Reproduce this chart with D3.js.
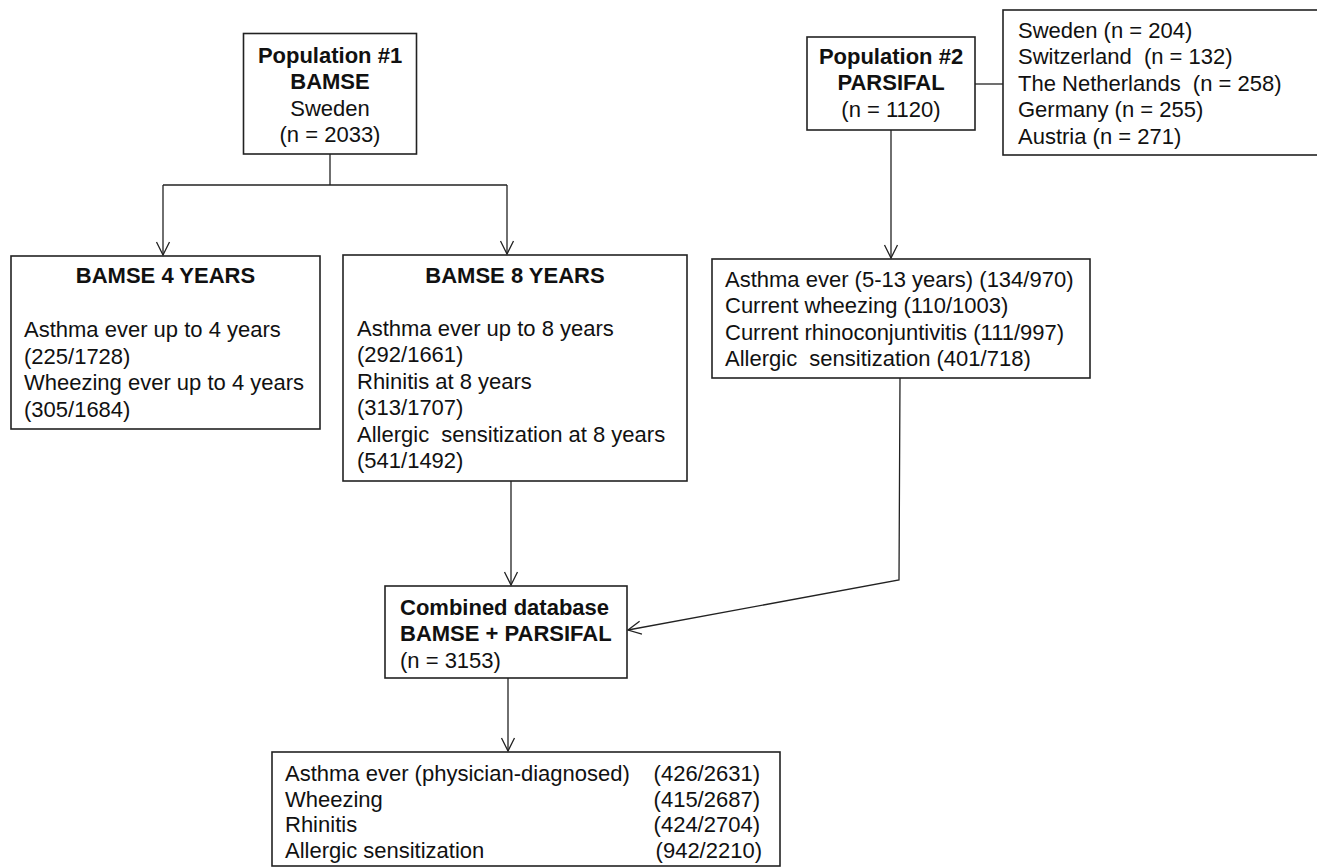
<!DOCTYPE html>
<html>
<head>
<meta charset="utf-8">
<script src="https://cdn.jsdelivr.net/npm/d3@7"></script>
<style>
  body { margin: 0; background: #fff; }
  svg text { font-family: "Liberation Sans", Arial, sans-serif; font-size: 22px; fill: #111; white-space: pre; }
</style>
</head>
<body>
<svg id="chart" width="1317" height="868"></svg>
<script>
// ---- data ----
const populations = [
  { id: "pop1", title: ["Population #1", "BAMSE"], sub: ["Sweden"], n: 2033 },
  { id: "pop2", title: ["Population #2", "PARSIFAL"], sub: [], n: 1120 },
  { id: "combined", title: ["Combined database", "BAMSE + PARSIFAL"], sub: [], n: 3153 }
];
const parsifalCountries = ["Sweden", "Switzerland ", "The Netherlands ", "Germany", "Austria"];
const parsifalCountryN = [204, 132, 258, 255, 271];

const bamse4Labels = ["Asthma ever up to 4 years", "Wheezing ever up to 4 years"];
const bamse4Cases = [225, 305];
const bamse4Totals = [1728, 1684];

const bamse8Labels = ["Asthma ever up to 8 years", "Rhinitis at 8 years", "Allergic  sensitization at 8 years"];
const bamse8Cases = [292, 313, 541];
const bamse8Totals = [1661, 1707, 1492];

const parsifalLabels = ["Asthma ever (5-13 years)", "Current wheezing", "Current rhinoconjuntivitis", "Allergic  sensitization"];
const parsifalCases = [134, 110, 111, 401];
const parsifalTotals = [970, 1003, 997, 718];

const combinedLabels = ["Asthma ever (physician-diagnosed)", "Wheezing", "Rhinitis", "Allergic sensitization"];
const combinedCases = [426, 415, 424, 942];
const combinedTotals = [2631, 2687, 2704, 2210];

// ---- layout (box geometry) ----
const boxes = {
  pop1:      { x: 243.5, y: 33.5, w: 173, h: 120.5 },
  pop2:      { x: 807, y: 37, w: 168, h: 93 },
  countries: { x: 1003, y: 10, w: 330, h: 145 },
  bamse4:    { x: 11, y: 256, w: 309, h: 173 },
  bamse8:    { x: 343, y: 255, w: 344, h: 226 },
  parsifal:  { x: 712, y: 259, w: 378, h: 119 },
  combined:  { x: 385, y: 586, w: 242, h: 92 },
  final:     { x: 272, y: 752, w: 508, h: 114 }
};
const lineH = 26.4;

const svg = d3.select("#chart");
const ink = "#222";

const defs = svg.append("defs");
defs.append("marker")
  .attr("id", "arrow")
  .attr("markerUnits", "userSpaceOnUse")
  .attr("viewBox", "-15 -9 17 18")
  .attr("refX", 0).attr("refY", 0)
  .attr("markerWidth", 17).attr("markerHeight", 18)
  .attr("orient", "auto")
  .append("path")
  .attr("d", "M-13,-6.5L0,0L-13,6.5")
  .attr("fill", "none")
  .attr("stroke", ink)
  .attr("stroke-width", 1.3);

// boxes
svg.append("g").selectAll("rect")
  .data(Object.values(boxes))
  .join("rect")
  .attr("x", d => d.x).attr("y", d => d.y)
  .attr("width", d => d.w).attr("height", d => d.h)
  .attr("fill", "none").attr("stroke", ink).attr("stroke-width", 1.6);

// connectors
const line = d3.line();
const connectors = [
  { pts: [[330, 154], [330, 185]] },
  { pts: [[163, 185], [507, 185]] },
  { pts: [[163, 185], [163, 255]], arrow: true },
  { pts: [[507, 185], [507, 254]], arrow: true },
  { pts: [[975, 84], [1003, 84]] },
  { pts: [[891, 130], [891, 258]], arrow: true },
  { pts: [[511, 481], [511, 585]], arrow: true },
  { pts: [[900, 378], [899, 580], [628, 630]], arrow: true },
  { pts: [[508, 678], [508, 751]], arrow: true }
];
svg.append("g").selectAll("path")
  .data(connectors)
  .join("path")
  .attr("d", d => line(d.pts))
  .attr("fill", "none")
  .attr("stroke", ink)
  .attr("stroke-width", 1.3)
  .attr("marker-end", d => d.arrow ? "url(#arrow)" : null);

// text helper
function block(lines, x, y0, anchor, step) {
  const g = svg.append("g");
  g.selectAll("text")
    .data(lines)
    .join("text")
    .attr("x", d => x + (d.dx || 0))
    .attr("y", (d, i) => y0 + i * (step || lineH))
    .attr("text-anchor", anchor || "start")
    .attr("font-weight", d => d.bold ? "bold" : "normal")
    .text(d => d.t);
  return g;
}
const frac = (c, t) => `(${c}/${t})`;

// population boxes
const p1 = populations[0], p2 = populations[1], pc = populations[2];
block([...p1.title.map(t => ({ t, bold: true })), ...p1.sub.map(t => ({ t })), { t: `(n = ${p1.n})` }],
  boxes.pop1.x + boxes.pop1.w / 2, 63, "middle");
block([...p2.title.map(t => ({ t, bold: true })), { t: `(n = ${p2.n})` }],
  boxes.pop2.x + boxes.pop2.w / 2, 64, "middle");
block([...pc.title.map(t => ({ t, bold: true })), { t: `(n = ${pc.n})` }],
  boxes.combined.x + 15, 615);

// countries
block(parsifalCountries.map((c, i) => ({ t: `${c} (n = ${parsifalCountryN[i]})` })), 1018, 38);

// BAMSE 4 / 8
block([{ t: "BAMSE 4 YEARS", bold: true }], boxes.bamse4.x + boxes.bamse4.w / 2, 283, "middle");
block(bamse4Labels.flatMap((l, i) => [{ t: l }, { t: frac(bamse4Cases[i], bamse4Totals[i]) }]), 24, 337, "start", 26.6);
block([{ t: "BAMSE 8 YEARS", bold: true }], boxes.bamse8.x + boxes.bamse8.w / 2, 283, "middle");
block(bamse8Labels.flatMap((l, i) => [{ t: l }, { t: frac(bamse8Cases[i], bamse8Totals[i]) }]), 357, 336, "start", 26.4);

// PARSIFAL outcomes
block(parsifalLabels.map((l, i) => ({ t: `${l} ${frac(parsifalCases[i], parsifalTotals[i])}` })), 725, 287);

// combined outcomes
block(combinedLabels.map(l => ({ t: l })), 285, 781, "start", 25.6);
block(combinedCases.map((c, i) => ({ t: frac(c, combinedTotals[i]), dx: i === 3 ? 2 : 0 })), 760, 781, "end", 25.6);
</script>
</body>
</html>
